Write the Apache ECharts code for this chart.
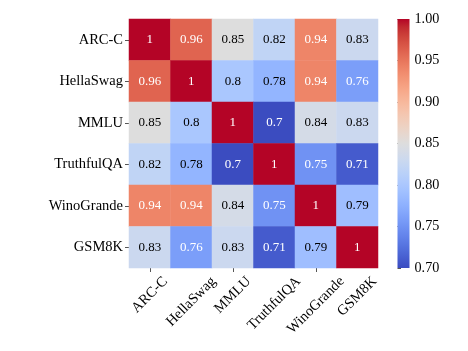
<!DOCTYPE html>
<html><head><meta charset="utf-8">
<script src="https://cdn.jsdelivr.net/npm/echarts@6/dist/echarts.min.js"></script>
<style>html,body{margin:0;padding:0;background:#fff}#c{width:468px;height:351px}</style>
</head><body><div id="c"></div>
<script>
const categories = ['ARC-C','HellaSwag','MMLU','TruthfulQA','WinoGrande','GSM8K'];
const rowARC = [1, 0.96, 0.85, 0.82, 0.94, 0.83];
const rowHella = [0.96, 1, 0.8, 0.78, 0.94, 0.76];
const rowMMLU = [0.85, 0.8, 1, 0.7, 0.84, 0.83];
const rowTruthful = [0.82, 0.78, 0.7, 1, 0.75, 0.71];
const rowWino = [0.94, 0.94, 0.84, 0.75, 1, 0.79];
const rowGSM = [0.83, 0.76, 0.83, 0.71, 0.79, 1];
const colorbarTicks = [0.70, 0.75, 0.80, 0.85, 0.90, 0.95, 1.00];
const vMin = 0.7, vMax = 1.0;

const rows = [rowARC, rowHella, rowMMLU, rowTruthful, rowWino, rowGSM];
// matplotlib coolwarm (Moreland) control points
const coolwarm = [[59,76,192],[68,90,204],[77,104,215],[87,117,225],[98,130,234],[108,142,241],[119,154,247],[130,165,251],[141,176,254],[152,185,255],[163,194,255],[174,201,253],[184,208,249],[194,213,244],[204,217,238],[213,219,230],[221,221,221],[229,216,209],[236,211,197],[241,204,185],[245,196,173],[247,187,160],[247,177,148],[247,166,135],[244,154,123],[241,141,111],[236,127,99],[229,112,88],[222,96,77],[213,80,66],[203,62,56],[192,40,47],[180,4,38]];
const cssCol = c => 'rgb(' + c.join(',') + ')';
function cmap(t){
  t = Math.max(0, Math.min(1, t));
  const p = t * (coolwarm.length - 1), i = Math.min(Math.floor(p), coolwarm.length - 2), f = p - i;
  return coolwarm[i].map((v, k) => v + (coolwarm[i+1][k] - v) * f);
}
function textColorFor(v){
  const c = cmap((v - vMin) / (vMax - vMin)).map(x => { x /= 255; return x <= 0.03928 ? x / 12.92 : Math.pow((x + 0.055) / 1.055, 2.4); });
  const lum = 0.2126*c[0] + 0.7152*c[1] + 0.0722*c[2];
  return lum > 0.408 ? '#000' : '#fff';
}
const FONT = 'Liberation Serif';
const heatData = [];
rows.forEach((r, yi) => r.forEach((v, xi) => {
  heatData.push({ value: [xi, yi, v], label: { color: textColorFor(v) } });
}));

const chart = echarts.init(document.getElementById('c'));
chart.setOption({
  animation: false,
  backgroundColor: '#fff',
  textStyle: { fontFamily: FONT },
  grid: [
    { left: 129, top: 19, width: 249, height: 249 },
    { left: 397.5, top: 19, width: 12, height: 249 }
  ],
  xAxis: [
    { type: 'category', gridIndex: 0, data: categories,
      axisLine: { show: false }, splitLine: { show: false },
      axisTick: { show: true, alignWithLabel: true, length: 4, lineStyle: { color: '#555', width: 1 } },
      axisLabel: { show: false } },
    { type: 'value', gridIndex: 1, min: 0, max: 1, show: false }
  ],
  yAxis: [
    { type: 'category', gridIndex: 0, data: categories, inverse: true,
      axisLine: { show: false }, splitLine: { show: false },
      axisTick: { show: true, alignWithLabel: true, length: 4, lineStyle: { color: '#555', width: 1 } },
      axisLabel: { interval: 0, margin: 6, fontFamily: FONT, fontSize: 14.5, color: '#000' } },
    { type: 'value', gridIndex: 1, min: vMin, max: vMax, interval: 0.05, position: 'right',
      axisLine: { show: false }, splitLine: { show: false },
      axisTick: { show: true, length: 3.5, lineStyle: { color: '#555', width: 1 } },
      axisLabel: { margin: 5, fontFamily: FONT, fontSize: 14.2, color: '#000',
        formatter: v => { const m = colorbarTicks.find(t => Math.abs(t - v) < 1e-6); return m === undefined ? '' : m.toFixed(2); } } }
  ],
  visualMap: { show: false, min: vMin, max: vMax, seriesIndex: 0, dimension: 2,
    inRange: { color: coolwarm.map(cssCol) } },
  series: [
    { type: 'heatmap', xAxisIndex: 0, yAxisIndex: 0, data: heatData,
      label: { show: true, fontFamily: FONT, fontSize: 13, formatter: p => String(p.value[2]) },
      itemStyle: { borderWidth: 0 }, emphasis: { disabled: true } },
    { type: 'custom', xAxisIndex: 1, yAxisIndex: 1, data: [[0, vMin, 1, vMax]], silent: true,
      renderItem: (params, api) => {
        const p0 = api.coord([api.value(0), api.value(3)]);
        const p1 = api.coord([api.value(2), api.value(1)]);
        const stops = coolwarm.map((c, i) => ({ offset: i / (coolwarm.length - 1), color: cssCol(c) }));
        return { type: 'rect', shape: { x: p0[0], y: p0[1], width: p1[0] - p0[0], height: p1[1] - p0[1] },
          style: { fill: new echarts.graphic.LinearGradient(0, 1, 0, 0, stops) } };
      } }
  ]
});

// x tick labels: rotated 45°, bounding box centred under each tick (matplotlib style)
const xfs = 14.5;
const cv = document.createElement('canvas').getContext('2d');
cv.font = xfs + 'px "' + FONT + '"';
const axisBottom = chart.convertToPixel({ yAxisIndex: 0 }, categories[categories.length - 1]) + 249 / 12;
const labelEls = categories.map(name => {
  const tx = chart.convertToPixel({ xAxisIndex: 0 }, name);
  const W = cv.measureText(name).width, H = xfs * 0.8;
  const half = (W + H) / (2 * Math.SQRT2);
  return { type: 'text', x: tx, y: axisBottom + 7 + half, rotation: Math.PI / 4, silent: true,
    style: { text: name, font: xfs + 'px "' + FONT + '"', fill: '#000', align: 'center', verticalAlign: 'middle' } };
});
chart.setOption({ graphic: labelEls });
</script></body></html>
